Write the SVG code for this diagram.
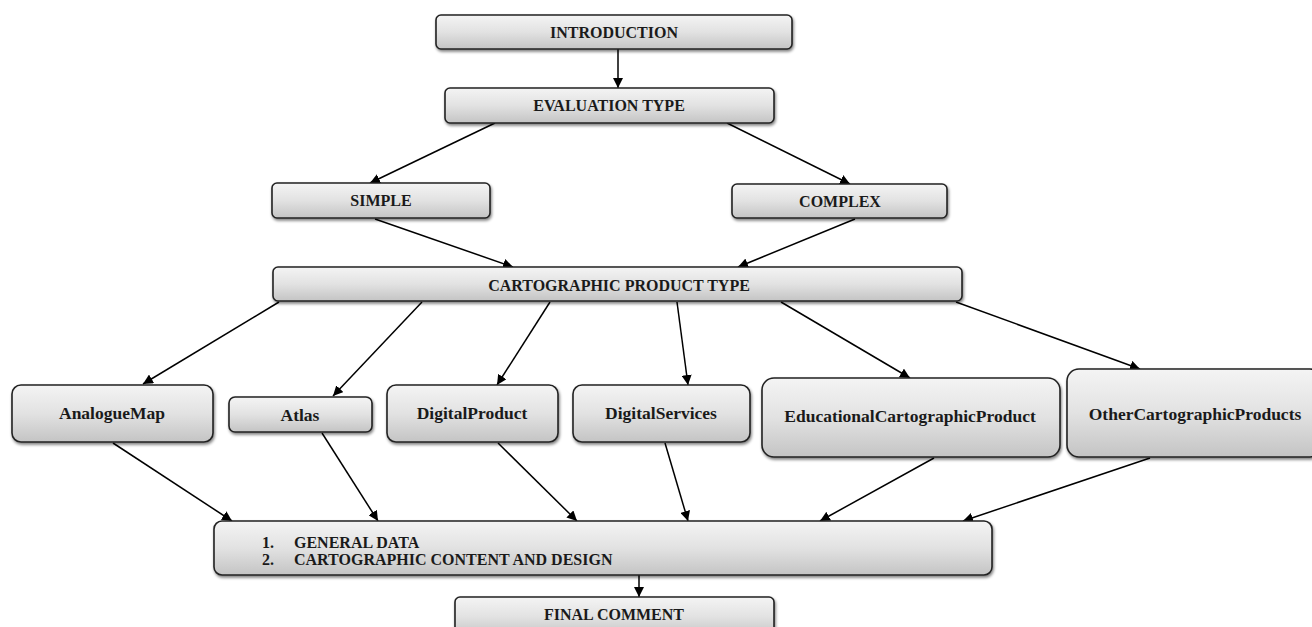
<svg xmlns="http://www.w3.org/2000/svg" width="1312" height="627" viewBox="0 0 1312 627">
<defs>
<linearGradient id="g" x1="0" y1="0" x2="0" y2="1">
<stop offset="0" stop-color="#f4f4f4"/>
<stop offset="0.5" stop-color="#e2e2e2"/>
<stop offset="1" stop-color="#c4c4c4"/>
</linearGradient>
<filter id="sh" x="-5%" y="-10%" width="110%" height="130%">
<feGaussianBlur in="SourceAlpha" stdDeviation="1.5"/>
<feOffset dx="1" dy="2" result="b"/>
<feComponentTransfer><feFuncA type="linear" slope="0.5"/></feComponentTransfer>
<feMerge><feMergeNode/><feMergeNode in="SourceGraphic"/></feMerge>
</filter>
<marker id="ah" viewBox="0 0 10 10" refX="10" refY="5" markerWidth="10" markerHeight="10" markerUnits="userSpaceOnUse" orient="auto">
<path d="M0,0 L10,5 L0,10 z" fill="#000"/>
</marker>
</defs>
<style>
.box{fill:url(#g);stroke:#222;stroke-width:1.6;filter:url(#sh)}
.t{font-family:"Liberation Serif","Times New Roman",serif;font-weight:bold;fill:#1a1a1a;text-anchor:middle;dominant-baseline:central}
.h{font-size:16px}
.n{font-size:17.5px}
.c{stroke:#000;stroke-width:1.5;fill:none;marker-end:url(#ah)}
</style>
<rect width="1312" height="627" fill="#fff"/>
<g id="connectors">
<line class="c" x1="618" y1="49" x2="618" y2="88"/>
<line class="c" x1="495" y1="123" x2="370" y2="183"/>
<line class="c" x1="727" y1="123" x2="850" y2="184"/>
<line class="c" x1="375" y1="219" x2="513" y2="267"/>
<line class="c" x1="855" y1="219" x2="738" y2="267"/>
<line class="c" x1="279" y1="302" x2="143" y2="384"/>
<line class="c" x1="422" y1="302" x2="333" y2="396"/>
<line class="c" x1="550" y1="302" x2="497" y2="385"/>
<line class="c" x1="677" y1="302" x2="688" y2="385"/>
<line class="c" x1="781" y1="302" x2="910" y2="378"/>
<line class="c" x1="956" y1="302" x2="1140" y2="369"/>
<line class="c" x1="113" y1="443" x2="232" y2="521"/>
<line class="c" x1="322" y1="433" x2="378" y2="521"/>
<line class="c" x1="498" y1="443" x2="577" y2="521"/>
<line class="c" x1="665" y1="443" x2="688" y2="521"/>
<line class="c" x1="934" y1="458" x2="820" y2="521"/>
<line class="c" x1="1150" y1="458" x2="963" y2="521"/>
<line class="c" x1="639" y1="575" x2="639" y2="597"/>
</g>
<g id="introduction"><rect class="box" x="436" y="15" width="356" height="34" rx="5"/><text class="t h" x="614" y="32">INTRODUCTION</text></g>
<g id="evaluation-type"><rect class="box" x="445" y="88" width="329" height="35" rx="5"/><text class="t h" x="609" y="105">EVALUATION TYPE</text></g>
<g id="simple"><rect class="box" x="272" y="183" width="218" height="35" rx="5"/><text class="t h" x="381" y="200">SIMPLE</text></g>
<g id="complex"><rect class="box" x="732" y="184" width="215" height="34" rx="5"/><text class="t h" x="840" y="201">COMPLEX</text></g>
<g id="cartographic-product-type"><rect class="box" x="273" y="267" width="689" height="34" rx="5"/><text class="t h" x="619" y="285">CARTOGRAPHIC PRODUCT TYPE</text></g>
<g id="analogue-map"><rect class="box" x="12" y="385" width="201" height="57" rx="9"/><text class="t n" x="112" y="413">AnalogueMap</text></g>
<g id="atlas"><rect class="box" x="229" y="397" width="143" height="35" rx="6"/><text class="t n" x="300" y="415">Atlas</text></g>
<g id="digital-product"><rect class="box" x="387" y="385" width="171" height="57" rx="9"/><text class="t n" x="472" y="413">DigitalProduct</text></g>
<g id="digital-services"><rect class="box" x="573" y="385" width="177" height="57" rx="9"/><text class="t n" x="661" y="413">DigitalServices</text></g>
<g id="educational"><rect class="box" x="762" y="378" width="298" height="79" rx="12"/><text class="t n" x="910" y="416">EducationalCartographicProduct</text></g>
<g id="other"><rect class="box" x="1067" y="369" width="255" height="88" rx="12"/><text class="t n" x="1195" y="414">OtherCartographicProducts</text></g>
<g id="general-data"><rect class="box" x="214" y="521" width="778" height="54" rx="8"/>
<text class="t h" x="262" y="542" style="text-anchor:start">1.</text><text class="t h" x="294" y="542" style="text-anchor:start">GENERAL DATA</text>
<text class="t h" x="262" y="559" style="text-anchor:start">2.</text><text class="t h" x="294" y="559" style="text-anchor:start">CARTOGRAPHIC CONTENT AND DESIGN</text></g>
<g id="final-comment"><rect class="box" x="455" y="597" width="319" height="40" rx="5"/><text class="t h" x="614" y="614">FINAL COMMENT</text></g>
</svg>
